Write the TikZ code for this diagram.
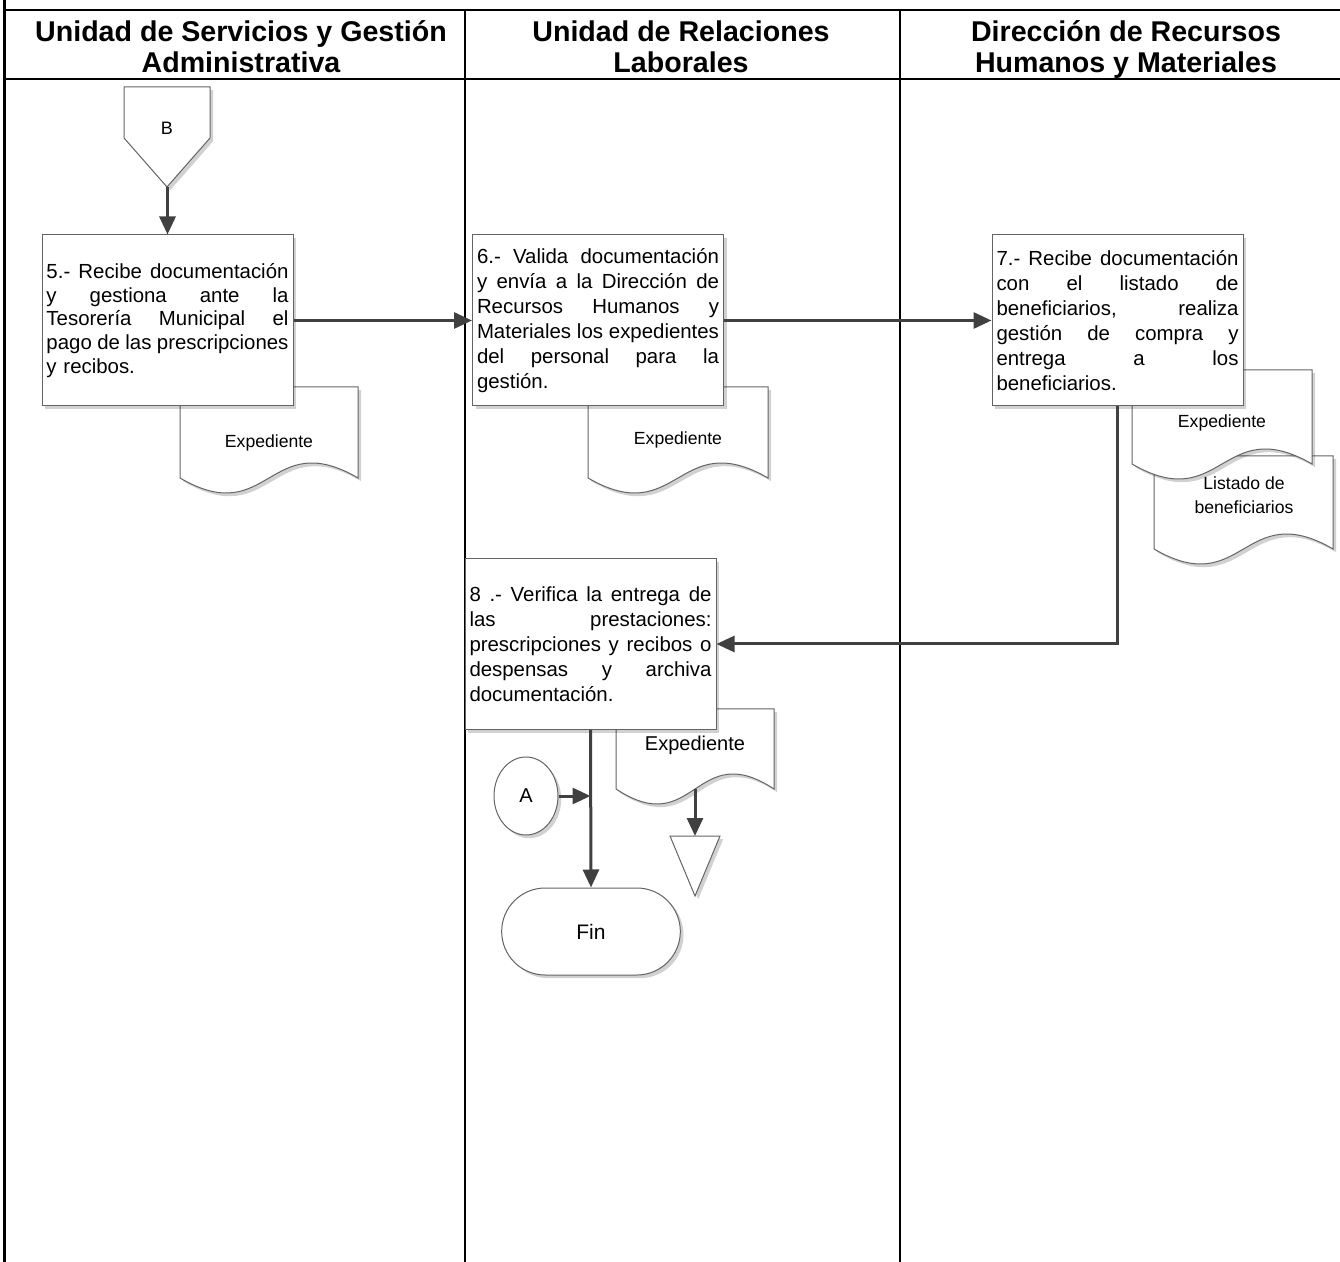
\documentclass[tikz,border=0pt]{standalone}
\usepackage{fontspec}
\setmainfont{Liberation Sans}
\usetikzlibrary{arrows.meta,shapes.misc,shapes.geometric,shadows}
\definecolor{edg}{RGB}{100,100,100}
\definecolor{flw}{RGB}{64,64,64}
% one justified line of a step box
\newcommand{\jl}[1]{\leavevmode\hbox to 121pt{\spaceskip=0.278em plus 1fil minus 0.1em\relax\xspaceskip=\spaceskip\relax#1}}
% document symbol: name, x1, y1, x2, y2 (corners of the page, wavy foot)
\newcommand{\docpage}[5]{%
  \draw[shapeline] (#2,#3) -- (#4,#3) -- (#4,#5) .. controls ({(#2+#4)/2},#5-52) and ({(#2+#4)/2},#5+52) .. (#2,#5) -- cycle;
  \coordinate (#1) at ({(#2+#4)/2},#5);}
\tikzset{
  shadowed/.style={drop shadow={shadow xshift=1.6pt,shadow yshift=-1.6pt,fill=black,opacity=0.18}},
  procbox/.style={draw=edg,fill=white,line width=0.5pt,shadowed,minimum width=125.5pt,minimum height=85.5pt,text width=121pt,inner xsep=2.25pt,align=left,font=\fontsize{10.2}{12.5}\selectfont},
  doctext/.style={align=center,font=\fontsize{8.8}{12}\selectfont},
  flow/.style={draw=flw,line width=1.5pt,-{Triangle[length=9pt,width=8pt]}},
  lanehead/.style={font=\bfseries\fontsize{14.3}{15.5}\selectfont,align=center},
  shapeline/.style={draw=edg,fill=white,line width=0.5pt,shadowed}
}
\begin{document}
\begin{tikzpicture}[x=0.5pt,y=-0.5pt]
\useasboundingbox (0,0) rectangle (1340,1262);
% lanes
\draw[line width=1.5pt] (4,0) -- (4,1262);
\draw[line width=1pt] (4,10) -- (1340,10) (4,79) -- (1340,79);
\foreach \x in {465,900} {\draw[line width=0.8pt] (\x,10) -- (\x,1262);}
\node[lanehead] (laneA) at (241,46.5) {Unidad de Servicios y Gestión\\Administrativa};
\node[lanehead] (laneB) at (681,46.5) {Unidad de Relaciones\\Laborales};
\node[lanehead] (laneC) at (1126,49.5) {Dirección de Recursos\\Humanos y Materiales};
% documents
\docpage{docLfoot}{1154}{456}{1333}{549}
\node[doctext] (docL) at (1244,495) {Listado de\\beneficiarios};
\docpage{doc7foot}{1132}{370}{1312}{464}
\node[doctext] (doc7) at (1222,423) {Expediente};
\docpage{doc5foot}{180}{387}{358}{478}
\node[doctext] (doc5) at (269,443) {Expediente};
\docpage{doc6foot}{588}{387}{768}{478}
\node[doctext] (doc6) at (678,440) {Expediente};
\docpage{doc8foot}{616}{709}{774}{789}
\node[doctext,font=\fontsize{10}{12}\selectfont] (doc8) at (695,745) {Expediente};
% off-page connector B
\draw[shapeline] (124,87) -- (210,87) -- (210,138) -- (167,187) -- (124,138) -- cycle;
\node[font=\fontsize{9}{11}\selectfont] (offB) at (167,128) {B};
\coordinate (offBtip) at (167.5,187);
% process steps
\node[procbox,font=\fontsize{10.2}{11.9}\selectfont] (box5) at (167.5,320.5) {\jl{5.- Recibe documentación}\\\jl{y gestiona ante la}\\\jl{Tesorería Municipal el}\\\jl{pago de las prescripciones}\\y recibos.};
\node[procbox] (box6) at (598,320.5) {\jl{6.- Valida documentación}\\\jl{y envía a la Dirección de}\\\jl{Recursos Humanos y}\\\jl{Materiales los expedientes}\\\jl{del personal para la}\\gestión.};
\node[procbox] (box7) at (1117.5,320.5) {\jl{7.- Recibe documentación}\\\jl{con el listado de}\\\jl{beneficiarios, realiza}\\\jl{gestión de compra y}\\\jl{entrega a los}\\beneficiarios.};
\node[procbox] (box8) at (590.5,644) {\jl{8 .- Verifica la entrega de}\\\jl{las prestaciones:}\\\jl{prescripciones y recibos o}\\\jl{despensas y archiva}\\documentación.};
% end
\node[ellipse,shapeline,minimum width=32pt,minimum height=39pt,inner sep=0pt,font=\fontsize{10}{12}\selectfont] (conA) at (526,796) {A};
\node[rounded rectangle,shapeline,minimum width=96pt,minimum height=43.5pt,font=\fontsize{10.5}{12}\selectfont] (fin) at (591,931.5) {Fin};
\draw[shapeline] (670,836) -- (720,836) -- (695,896) -- cycle;
\coordinate (sinkTop) at (695,836);
% flow
\draw[flow] (offBtip) -- (box5.north);
\draw[flow] (box5) -- (box6);
\draw[flow] (box6) -- (box7);
\draw[flow] (box7.south) |- (box8.east);
\draw[flow] (box8.south) -- (fin.north);
\draw[flow] (conA) -- (conA -| box8.south);
\draw[flow] (doc8foot) -- (sinkTop);
\end{tikzpicture}
\end{document}
